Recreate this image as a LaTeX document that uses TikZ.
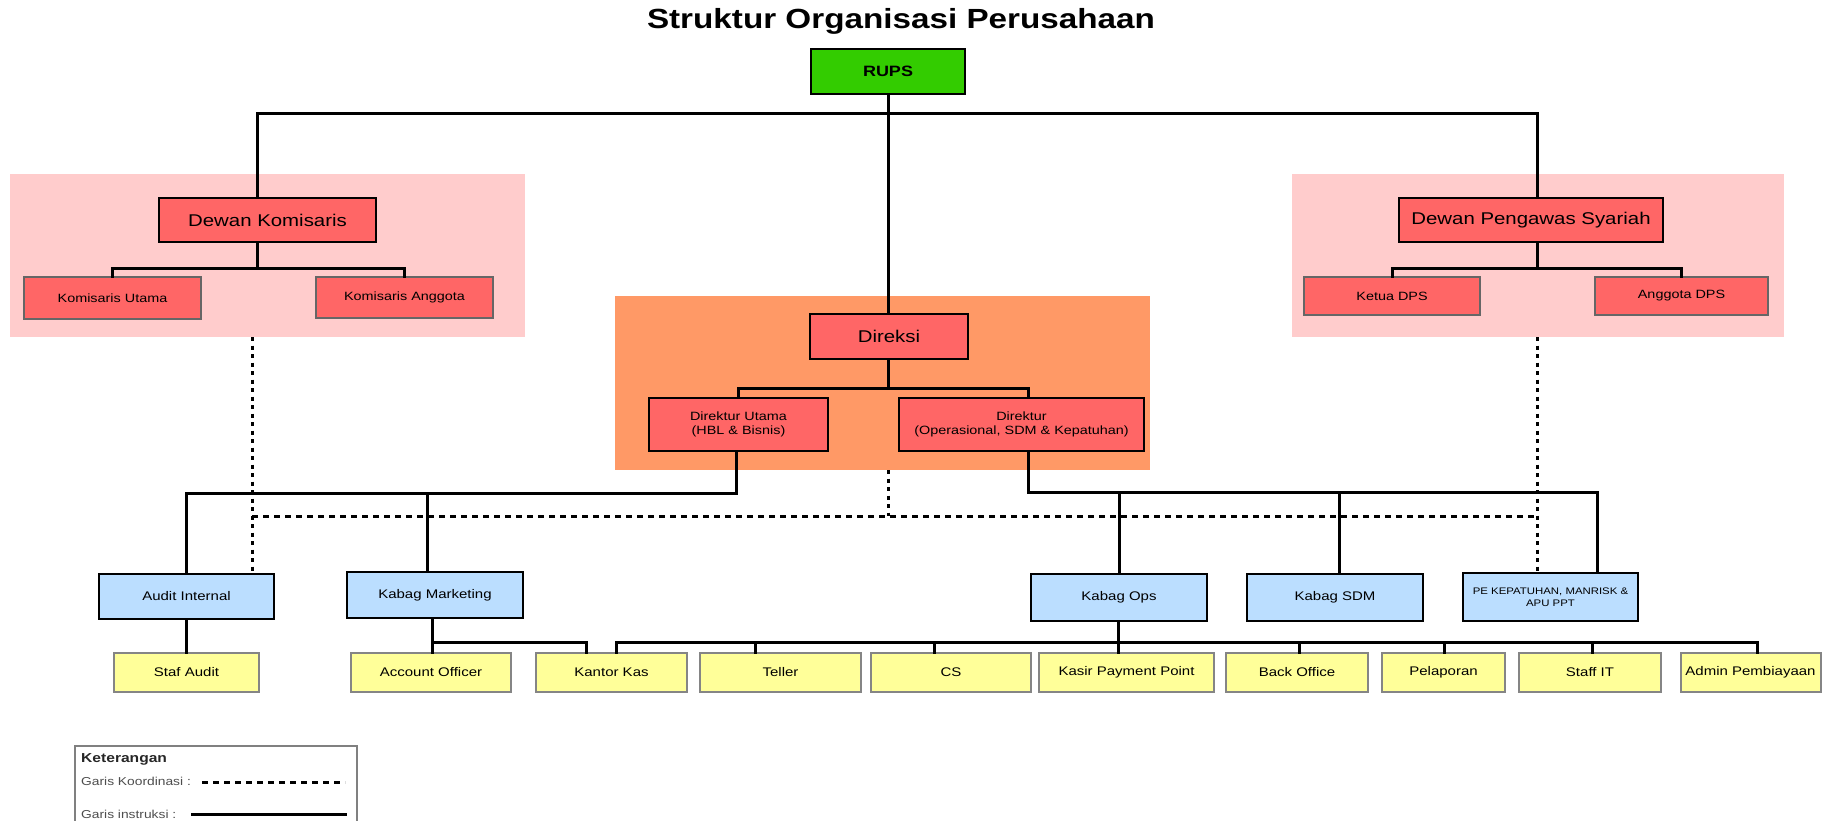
\documentclass[tikz,border=0pt]{standalone}
\usepackage{fontspec}
\setmainfont{Liberation Sans}[FakeStretch=1.2]
\usetikzlibrary{calc}
\definecolor{rupsg}{HTML}{33CC00}
\definecolor{redb}{HTML}{FF6666}
\definecolor{pinkp}{HTML}{FFCCCC}
\definecolor{orangep}{HTML}{FF9966}
\definecolor{blueb}{HTML}{BBDEFF}
\definecolor{yellowb}{HTML}{FFFF99}
\definecolor{bordg}{HTML}{666666}
\definecolor{legg}{HTML}{4D4D4D}
\begin{document}
\begin{tikzpicture}[x=1pt,y=-1pt,
  box/.style={draw, line width=2pt, inner sep=2pt, align=center, text=black},
  panel/.style={draw=none, inner sep=0pt, outer sep=0pt},
  bigred/.style={box, fill=redb, font=\fontsize{17}{20}\selectfont},
  smallred/.style={box, draw=bordg, fill=redb, font=\fontsize{12}{14}\selectfont},
  dirbox/.style={box, fill=redb, font=\fontsize{12}{14}\selectfont},
  bluebox/.style={box, fill=blueb, font=\fontsize{12.5}{15}\selectfont},
  yelbox/.style={box, draw=bordg!80, fill=yellowb, font=\fontsize{12.5}{15}\selectfont, minimum height=39pt},
  conn/.style={line width=3pt, line cap=rect},
  hcoord/.style={line width=3pt, dash pattern=on 6pt off 5pt},
  vcoord/.style={line width=3pt, dash pattern=on 4pt off 4.5pt},
  legtext/.style={inner sep=0pt, anchor=west, text=legg, font=\fontsize{11.5}{14}\selectfont}
]
\useasboundingbox (0,0) rectangle (1822,821);

% title
\node[font=\fontsize{27.7}{32}\bfseries] (title) at (901,21) {Struktur Organisasi Perusahaan};

% panels
\node[panel, fill=pinkp, minimum width=515pt, minimum height=163pt] (pl) at (267.5,255.5) {};
\node[panel, fill=pinkp, minimum width=492pt, minimum height=163pt] (pr) at (1538,255.5) {};
\node[panel, fill=orangep, minimum width=535pt, minimum height=174pt] (po) at (882.5,383) {};

% top
\node[box, fill=rupsg, font=\fontsize{15}{18}\bfseries, minimum width=154pt, minimum height=45pt] (rups) at (888,71.5) {RUPS};

\node[bigred, minimum width=217pt, minimum height=44pt] (dk) at (267.5,220) {Dewan Komisaris};
\node[smallred, minimum width=177pt, minimum height=42pt] (ku) at (112.5,298) {Komisaris Utama};
\node[smallred, minimum width=177pt, minimum height=41pt] (ka) at (404.5,297.5) {Komisaris Anggota};

\node[bigred, minimum width=264pt, minimum height=44pt] (dps) at (1531,220) {Dewan Pengawas Syariah};
\node[smallred, minimum width=176pt, minimum height=38pt] (kdps) at (1392,296) {Ketua DPS};
\node[smallred, minimum width=173pt, minimum height=38pt] (adps) at (1681.5,296) {Anggota DPS};

\node[bigred, minimum width=158pt, minimum height=45pt] (direksi) at (889,336.5) {Direksi};
\node[dirbox, minimum width=179pt, minimum height=53pt] (du) at (738.5,424.5) {Direktur Utama\\(HBL \& Bisnis)};
\node[dirbox, minimum width=245pt, minimum height=53pt] (dops) at (1021.5,424.5) {Direktur\\(Operasional, SDM \& Kepatuhan)};

% blue
\node[bluebox, minimum width=175pt, minimum height=45pt] (ai) at (186.5,596.5) {Audit Internal};
\node[bluebox, minimum width=176pt, minimum height=46pt] (km) at (435,595) {Kabag Marketing};
\node[bluebox, minimum width=176pt, minimum height=47pt] (kops) at (1119,597.5) {Kabag Ops};
\node[bluebox, minimum width=176pt, minimum height=47pt] (ksdm) at (1335,597.5) {Kabag SDM};
\node[bluebox, font=\fontsize{9.5}{11.5}\selectfont, minimum width=175pt, minimum height=48pt] (pe) at (1550.5,597) {PE KEPATUHAN, MANRISK \&\\APU PPT};

% yellow
\node[yelbox, minimum width=145pt] (sa) at (186.5,672.5) {Staf Audit};
\node[yelbox, minimum width=160pt] (ao) at (431,672.5) {Account Officer};
\node[yelbox, minimum width=151pt] (kk) at (611.5,672.5) {Kantor Kas};
\node[yelbox, minimum width=161pt] (te) at (780.5,672.5) {Teller};
\node[yelbox, minimum width=160pt] (cs) at (951,672.5) {CS};
\node[yelbox, minimum width=175pt] (kpp) at (1126.5,672.5) {Kasir Payment Point};
\node[yelbox, minimum width=142pt] (bo) at (1297,672.5) {Back Office};
\node[yelbox, minimum width=123pt] (pel) at (1443.5,672.5) {Pelaporan};
\node[yelbox, minimum width=142pt] (sit) at (1590,672.5) {Staff IT};
\node[yelbox, minimum width=140pt] (adm) at (1750.5,672.5) {Admin Pembiayaan};

% ---- connectors ----
\coordinate (tbL) at (257,114);
\coordinate (tbR) at (1537,114);
\draw[conn] (rups.south) -- (rups.south |- direksi.north);
\draw[conn] (tbL |- dk.north) -- (tbL) -- (tbR) -- (tbR |- dps.north);

\coordinate (dkB) at (257,268);
\draw[conn] (dkB |- dk.south) -- (dkB);
\draw[conn] (ku.north) |- (dkB) -| (ka.north);

\coordinate (dpsB) at (1537,268);
\draw[conn] (dpsB |- dps.south) -- (dpsB);
\draw[conn] (kdps.north) |- (dpsB) -| (adps.north);

\coordinate (drB) at (888,388);
\coordinate (dopsX) at (1028,0);
\draw[conn] (drB |- direksi.south) -- (drB);
\draw[conn] (du.north) |- (drB) -| (dopsX |- dops.north);

\coordinate (duB) at (736,493);
\coordinate (kmX) at (427,0);
\draw[conn] (duB |- du.south) -- (duB) -| (ai.north);
\draw[conn] (kmX |- duB) -- (kmX |- km.north);

\coordinate (dopsB) at (1028,492);
\coordinate (ksdmX) at (1339,0);
\coordinate (peX) at (1597,0);
\draw[conn] (dopsB |- dops.south) -- (dopsB) -| (peX |- pe.north);
\draw[conn] (kops.north |- dopsB) -- (kops.north);
\draw[conn] (ksdmX |- dopsB) -- (ksdmX |- ksdm.north);

% coordination lines
\coordinate (dtL) at (252,516);
\coordinate (dtR) at (1537,516);
\draw[hcoord] (dtL) -- (dtR);
\draw[vcoord] (dtL |- pl.south) -- (dtL |- ai.north);
\draw[vcoord] (dtR |- pr.south) -- (dtR |- pe.north);
\draw[vcoord] (drB |- po.south) -- (drB |- dtL);

% lower connectors
\draw[conn] (ai.south) -- (sa.north);
\coordinate (kmB) at (432,642);
\coordinate (kkX) at (586,0);
\draw[conn] (kmB |- km.south) -- (kmB) -- (kmB |- ao.north);
\draw[conn] (kmB) -| (kkX |- kk.north);

\coordinate (opsB) at (1118,642);
\coordinate (opsL) at (616,642);
\coordinate (opsR) at (1757,642);
\draw[conn] (opsB |- kops.south) -- (opsB);
\draw[conn] (opsL) -- (opsR);
\foreach \xx/\nn in {616/kk,755/te,934/cs,1118/kpp,1299/bo,1444/pel,1592/sit,1757/adm}{
  \coordinate (d\nn) at (\xx,642);
  \draw[conn] (d\nn) -- (d\nn |- \nn.north);
}

% legend
\draw[line width=1.5pt, draw=gray] (75,830) -- (75,746) -- (357,746) -- (357,830);
\node[inner sep=0pt, anchor=west, font=\fontsize{13}{15}\bfseries, text=black!85] (ket) at (81,759) {Keterangan};
\node[legtext] (gk) at (81,781) {Garis Koordinasi :};
\node[legtext] (gi) at (81,814) {Garis instruksi :};
\coordinate (lk1) at (202,782);
\coordinate (lk2) at (345,782);
\coordinate (li1) at (192,814);
\coordinate (li2) at (345,814);
\draw[hcoord] (lk1) -- (lk2);
\draw[conn] (li1) -- (li2);
\end{tikzpicture}
\end{document}
